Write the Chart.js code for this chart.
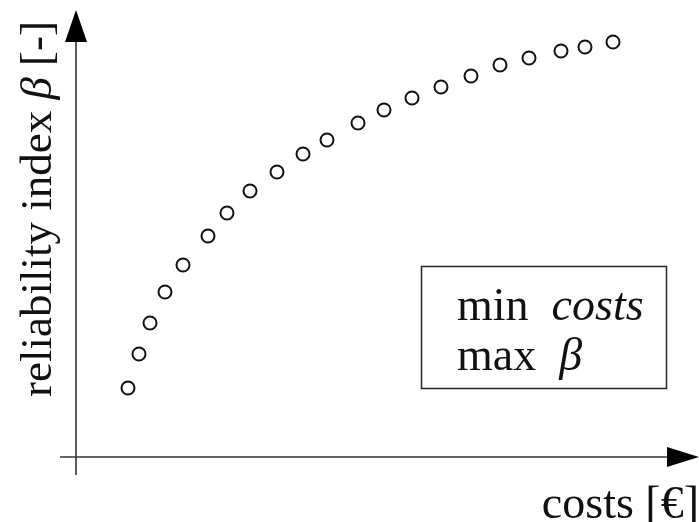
<!DOCTYPE html>
<html>
<head>
<meta charset="utf-8">
<script src="https://cdn.jsdelivr.net/npm/chart.js@4.4.0/dist/chart.umd.min.js"></script>
<style>
  body { margin: 0; background: #fff; }
  #wrap { width: 699px; height: 522px; }
</style>
</head>
<body>
<div id="wrap"><canvas id="pareto-chart" width="699" height="522"></canvas></div>
<script>
// Values (arbitrary units, no ticks shown)
const costs = [52, 63, 74, 89, 107, 132, 151, 174, 201, 227, 251, 282, 308, 336, 365, 395, 424, 453, 485, 509, 537];
const beta = [69, 103, 134, 165, 192, 221, 244, 266, 285, 303, 317, 334, 347, 359, 370, 381, 392, 399, 406, 410, 415];

const xLabel = ['costs [€]'];
const yLabel = [['reliability index ', false], ['β', true], [' [-]', false]];
const boxLines = [
    [['min  ', false], ['costs', true]],
    [['max  ', false], ['β', true]]
];

const FONT = '"Liberation Serif", "Times New Roman", serif';

// Draw a line of text made of normal / italic pieces
function drawRuns(ctx, runs, x, y, size) {
    runs.forEach(([txt, italic]) => {
        ctx.font = (italic ? 'italic ' : '') + size + 'px ' + FONT;
        ctx.fillText(txt, x, y);
        x += ctx.measureText(txt).width;
    });
}

// Axes with arrow heads, axis labels and the objective box
const axesPlugin = {
    id: 'arrowAxes',
    afterDraw(chart) {
        const ctx = chart.ctx;
        const xs = chart.scales.x;
        const ys = chart.scales.y;
        const x0 = xs.getPixelForValue(0);
        const y0 = ys.getPixelForValue(0);
        const xEnd = xs.right;
        const yEnd = ys.top;

        ctx.save();
        ctx.strokeStyle = '#333';
        ctx.fillStyle = '#000';
        ctx.lineWidth = 1.6;

        // y axis
        ctx.beginPath();
        ctx.moveTo(x0, y0 + 18);
        ctx.lineTo(x0, yEnd + 20);
        ctx.stroke();
        ctx.beginPath();
        ctx.moveTo(x0, yEnd);
        ctx.lineTo(x0 - 11, yEnd + 32);
        ctx.lineTo(x0 + 11, yEnd + 32);
        ctx.closePath();
        ctx.fill();

        // x axis
        ctx.beginPath();
        ctx.moveTo(x0 - 16, y0);
        ctx.lineTo(xEnd - 20, y0);
        ctx.stroke();
        ctx.beginPath();
        ctx.moveTo(xEnd, y0);
        ctx.lineTo(xEnd - 32, y0 - 10);
        ctx.lineTo(xEnd - 32, y0 + 10);
        ctx.closePath();
        ctx.fill();

        ctx.fillStyle = '#111';
        ctx.textBaseline = 'alphabetic';
        ctx.textAlign = 'left';

        // x label
        ctx.font = '46px ' + FONT;
        const w = ctx.measureText(xLabel[0]).width;
        ctx.fillText(xLabel[0], 699 - w, 518);

        // y label (rotated)
        ctx.save();
        ctx.translate(51, 397);
        ctx.rotate(-Math.PI / 2);
        drawRuns(ctx, yLabel, 0, 0, 45);
        ctx.restore();

        // box with objectives
        ctx.strokeStyle = '#222';
        ctx.lineWidth = 1.5;
        ctx.strokeRect(421.5, 266.5, 245, 122);
        drawRuns(ctx, boxLines[0], 457, 320, 46);
        drawRuns(ctx, boxLines[1], 457, 370, 46);

        ctx.restore();
    }
};

const chart = new Chart(document.getElementById('pareto-chart'), {
    type: 'scatter',
    data: {
        datasets: [{
            data: costs.map((c, i) => ({ x: c, y: beta[i] })),
            pointRadius: 6.5,
            pointBorderWidth: 2,
            pointBorderColor: '#111',
            pointBackgroundColor: '#fff',
            pointHoverRadius: 6.5
        }]
    },
    options: {
        responsive: false,
        animation: false,
        devicePixelRatio: 1,
        layout: { autoPadding: false, padding: { left: 76, right: 0, top: 10, bottom: 65 } },
        plugins: { legend: { display: false }, tooltip: { enabled: false } },
        scales: {
            x: { type: 'linear', display: false, min: 0, max: 623 },
            y: { type: 'linear', display: false, min: 0, max: 447 }
        }
    },
    plugins: [axesPlugin]
});
</script>
</body>
</html>
